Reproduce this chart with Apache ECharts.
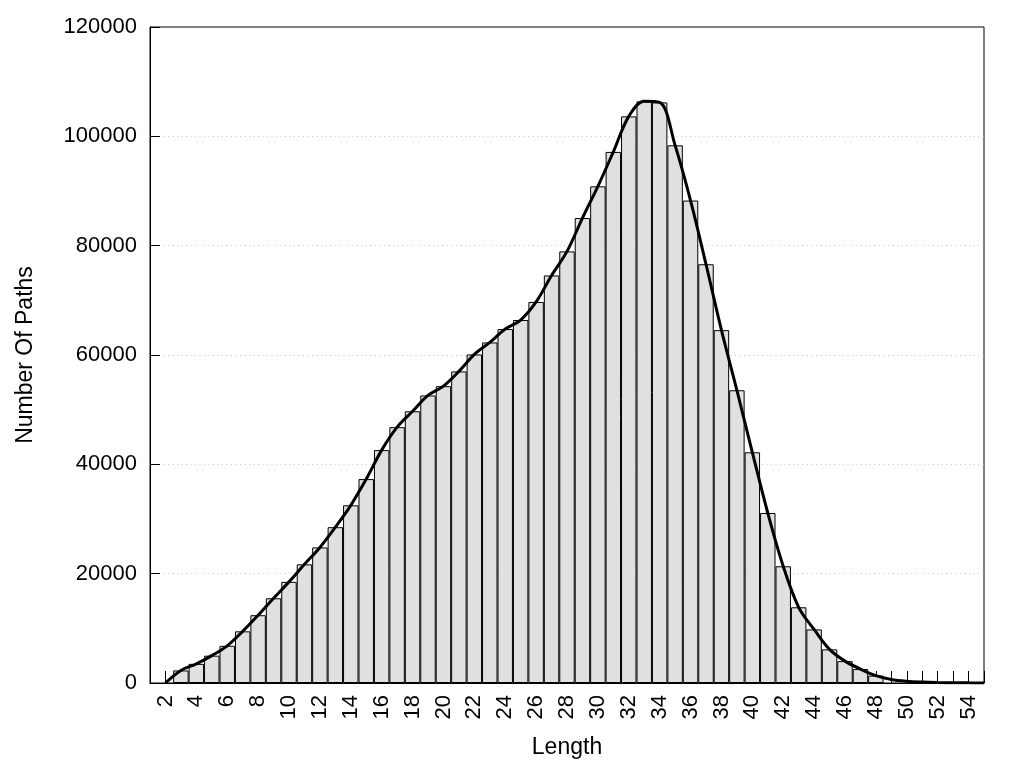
<!DOCTYPE html>
<html>
<head>
<meta charset="utf-8">
<script src="https://cdn.jsdelivr.net/npm/echarts@6/dist/echarts.min.js"></script>
<style>
html,body{margin:0;padding:0;background:#fff;}
#chart{width:1024px;height:768px;}
</style>
</head>
<body>
<div id="chart"></div>
<script>
// Path lengths with a bar (histogram)
var barLengths = [3,4,5,6,7,8,9,10,11,12,13,14,15,16,17,18,19,20,21,22,23,24,25,26,27,28,29,30,31,32,33,34,35,36,37,38,39,40,41,42,43,44,45,46,47,48];
var barCounts = [2300,3500,5000,6800,9450,12400,15500,18500,21700,24800,28500,32500,37300,42600,46800,49700,52600,54300,57000,60100,62300,64750,66400,69700,74550,78950,85050,90850,97150,103650,106400,106200,98350,88250,76600,64550,53550,42200,31100,21350,13850,9800,6150,4000,2550,1350];
// Smoothed curve points
var curveLengths = [2,3,4,5,6,7,8,9,10,11,12,13,14,15,16,17,18,19,20,21,22,23,24,25,26,27,28,29,30,31,32,33,34,35,36,37,38,39,40,41,42,43,44,45,46,47,48,49,50,51,52,53,54,55];
var curveCounts = [0,2300,3500,5000,6800,9450,12400,15500,18500,21700,24800,28500,32500,37300,42600,46800,49700,52600,54300,57000,60100,62300,64750,66400,69700,74550,78950,85050,90850,97150,103650,106400,106200,98350,88250,76600,64550,53550,42200,31100,21350,13850,9800,6150,4000,2550,1350,650,320,170,90,50,25,10];
var yTicks = [0,20000,40000,60000,80000,100000,120000];

var FONT = "'Liberation Sans', Arial, sans-serif";
var chart = echarts.init(document.getElementById('chart'));
var gridLeft = 150, gridRight = 40, xMin = 1, xMax = 55;
var unit = (1024 - gridLeft - gridRight) / (xMax - xMin);

var bars = barLengths.map(function (x, i) { return [x, barCounts[i]]; });
var curve = curveLengths.map(function (x, i) { return [x, curveCounts[i]]; });

chart.setOption({
  animation: false,
  backgroundColor: '#fff',
  grid: { left: gridLeft, right: gridRight, top: 27, bottom: 85, show: true, borderColor: '#000', borderWidth: 1, backgroundColor: 'transparent' },
  xAxis: {
    type: 'value', min: xMin, max: xMax, interval: 1,
    name: 'Length', nameLocation: 'middle', nameGap: 53,
    nameTextStyle: { fontFamily: FONT, fontSize: 23, color: '#000' },
    axisLine: { show: true, lineStyle: { color: '#000', width: 1 } },
    axisTick: { show: true, inside: true, length: 12, lineStyle: { color: '#000', width: 1 } },
    axisLabel: {
      rotate: 90, margin: 12, fontFamily: FONT, fontSize: 22, color: '#000',
      formatter: function (v) { return (v % 2 === 0) ? String(v) : ''; }
    },
    splitLine: { show: false }
  },
  yAxis: {
    type: 'value', min: yTicks[0], max: yTicks[yTicks.length - 1], interval: yTicks[1] - yTicks[0],
    name: 'Number Of Paths', nameLocation: 'middle', nameGap: 113,
    nameTextStyle: { fontFamily: FONT, fontSize: 23, color: '#000' },
    axisLine: { show: true, lineStyle: { color: '#000', width: 1 } },
    axisTick: { show: true, inside: true, length: 10, lineStyle: { color: '#000', width: 1 } },
    axisLabel: { margin: 13, fontFamily: FONT, fontSize: 22, color: '#000',
      formatter: function (v) { return String(v); } },
    splitLine: { show: true, showMinLine: false, showMaxLine: false, lineStyle: { color: '#c8c8c8', width: 1, type: [1, 3.5] } }
  },
  series: [
    {
      type: 'bar', data: bars, barWidth: unit, z: 2,
      itemStyle: { color: '#e0e0e0', borderColor: '#000', borderWidth: 1 }
    },
    {
      type: 'line', data: curve, smooth: 0.35, symbol: 'none', z: 5,
      lineStyle: { color: '#000', width: 3 }
    }
  ]
});
</script>
</body>
</html>
